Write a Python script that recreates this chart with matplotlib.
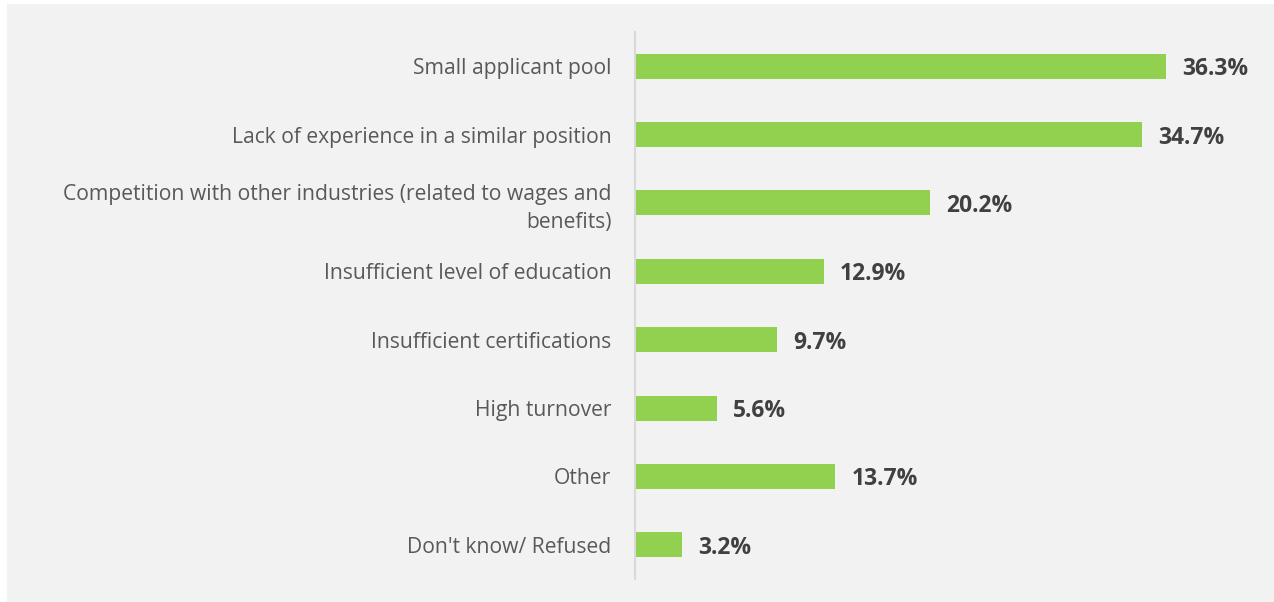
import numpy as np
import matplotlib.pyplot as plt

# Reasons for hiring difficulty (% of respondents)
reasons = [
    "Small applicant pool",
    "Lack of experience in a similar position",
    "Competition with other industries (related to wages and\nbenefits)",
    "Insufficient level of education",
    "Insufficient certifications",
    "High turnover",
    "Other",
    "Don't know/ Refused",
]
shares = [36.3, 34.7, 20.2, 12.9, 9.7, 5.6, 13.7, 3.2]

plt.rcParams['font.family'] = ['Open Sans', 'DejaVu Sans']

W, H = 1274, 602
fig = plt.figure(figsize=(W / 100, H / 100), dpi=100)
fig.patch.set_facecolor('white')

# grey panel behind the chart
bg = fig.add_axes([7 / W, 0, 1 - 7 / W, 1 - 4 / H])
bg.set_facecolor('#f2f2f2')
bg.set_xticks([])
bg.set_yticks([])
for s in bg.spines.values():
    s.set_visible(False)

# plot area: x=635..1255 px, y=32..579 px
left, right, top, bottom = 635, 1255, 32, 579
ax = fig.add_axes([left / W, 1 - bottom / H, (right - left) / W, (bottom - top) / H])
ax.set_facecolor('none')

y = np.arange(len(reasons))
ax.barh(y, shares, height=0.365, color='#92d050')
ax.set_ylim(len(reasons) - 0.5, -0.5)
ax.set_xlim(0, (right - left) / 14.62)

for yi, v in zip(y, shares):
    ax.text(v + 1.1, yi, f"{v:.1f}%", va='center_baseline', ha='left',
            fontsize=16.5, fontweight='bold', color='#404040')

ax.set_yticks(y)
ax.set_yticklabels(reasons, fontsize=15.2, color='#595959')
for lbl in ax.get_yticklabels():
    lbl.set_linespacing(1.4)
ax.tick_params(axis='y', length=0, pad=17)
ax.set_xticks([])
for name in ['top', 'right', 'bottom']:
    ax.spines[name].set_visible(False)
ax.spines['left'].set_color('#d9d9d9')
ax.spines['left'].set_linewidth(1.5)

fig.savefig('out.png', dpi=100, facecolor='white')
